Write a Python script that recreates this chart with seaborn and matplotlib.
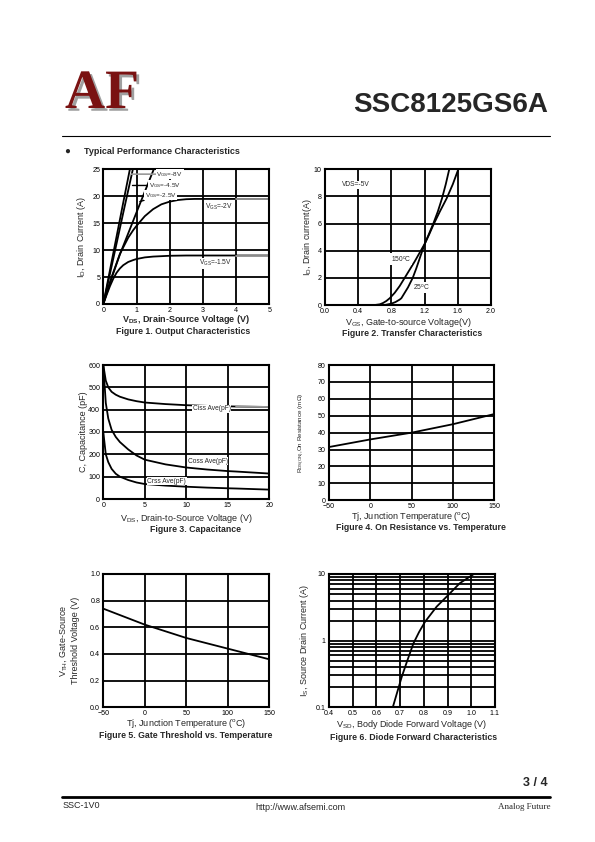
import numpy as np
import matplotlib.pyplot as plt
import matplotlib.patheffects as pe
import seaborn as sns
from matplotlib.lines import Line2D
from matplotlib.ticker import MultipleLocator, LogLocator, FixedLocator, NullFormatter

sns.set_style("white")
plt.rcParams['font.family'] = ['Liberation Sans', 'DejaVu Sans']
plt.rcParams['mathtext.default'] = 'regular'

# Figure 1 - output characteristics (Vds, Id)
vgs8_x = [0, 0.3, 0.6, 0.8]
vgs8_y = [0, 9.4, 18.8, 25]
vgs45_x = [0, 0.3, 0.6, 0.89]
vgs45_y = [0, 8.4, 16.9, 25]
vgs25_x = [0, 0.25, 0.5, 1.0, 1.52]
vgs25_y = [0, 4.8, 9.2, 17.0, 25]
vgs2_x = [0, 0.1, 0.25, 0.5, 0.75, 0.9, 1.0, 1.25, 1.5, 1.75, 2.0, 2.25, 2.5, 2.75, 3, 4, 5]
vgs2_y = [0, 2.1, 5, 9.3, 12.3, 13.7, 14.5, 16.3, 17.6, 18.5, 19.0, 19.3, 19.45, 19.5, 19.5, 19.5, 19.5]
vgs15_x = [0, 0.1, 0.2, 0.3, 0.4, 0.5, 0.6, 0.75, 0.9, 1.0, 1.25, 1.5, 2.0, 2.5, 3, 4, 5]
vgs15_y = [0, 1.7, 3.3, 4.7, 5.8, 6.6, 7.2, 7.8, 8.15, 8.35, 8.65, 8.8, 8.95, 9.0, 9.0, 9.0, 9.0]

# Figure 2 - transfer characteristics
t25_x = [0, 0.72, 0.8, 0.85, 0.9, 0.92, 1.0, 1.057, 1.1, 1.15, 1.205, 1.25, 1.305, 1.36, 1.41, 1.455, 1.497]
t25_y = [0, 0, 0.1, 0.22, 0.4, 0.5, 1.3, 2.0, 2.7, 3.6, 4.55, 5.2, 6.0, 6.9, 7.86, 8.9, 10]
t150_x = [0, 0.6, 0.66, 0.7, 0.74, 0.78, 0.84, 0.9, 0.96, 1.02, 1.08, 1.14, 1.205, 1.255, 1.305,
          1.385, 1.466, 1.54, 1.606]
t150_y = [0, 0, 0.05, 0.15, 0.3, 0.5, 0.9, 1.4, 2.0, 2.6, 3.2, 3.85, 4.55, 5.2, 5.9,
          6.9, 7.86, 8.9, 10]

# Figure 3 - capacitance
cap_x = [0, 0.3, 0.6, 1, 1.5, 2, 3, 4, 5, 7.5, 10, 12.5, 15, 16, 20]
ciss = [600, 530, 500, 480, 467, 458, 446, 438, 432, 425, 420, 417, 415, 414, 412]
coss = [600, 430, 360, 310, 278, 255, 222, 195, 176, 155, 141, 132, 125, 123, 114]
crss = [300, 200, 165, 135, 113, 100, 85, 74, 67, 60, 55, 51, 48, 47, 42]

# Figure 4 - on resistance vs temperature
tj = [-50, 0, 50, 100, 150]
rdson = [31.5, 36, 40, 45, 51]

# Figure 5 - gate threshold vs temperature
vth = [0.74, 0.62, 0.52, 0.44, 0.36]

# Figure 6 - body diode
vsd = [0.669, 0.69, 0.707, 0.73, 0.756, 0.78, 0.805, 0.854, 0.903, 0.951, 1.011]
isd = [0.1, 0.18, 0.288, 0.5, 0.91, 1.35, 1.92, 3.24, 4.84, 7.25, 10]

W, H = 595, 842
fig = plt.figure(figsize=(W / 100, H / 100), dpi=100)


def add_ax(l, r, t, b):
    return fig.add_axes([l / W, 1 - b / H, (r - l) / W, (b - t) / H])


def style(ax, xlim, ylim, xstep, ystep):
    ax.set_xlim(*xlim)
    ax.set_ylim(*ylim)
    if xstep:
        ax.xaxis.set_major_locator(MultipleLocator(xstep))
    if ystep:
        ax.yaxis.set_major_locator(MultipleLocator(ystep))
    ax.grid(True, color='black', lw=1.3)
    for s in ax.spines.values():
        s.set_color('black')
        s.set_linewidth(1.5)
    ax.tick_params(labelsize=5.1, length=0, pad=2.2, colors='black')


def labels(ax, xl, yl, xy, yx, xbold=False, ysize=6.5):
    ax.set_xlabel(xl, fontsize=6.5, fontweight='bold' if xbold else 'normal')
    ax.set_ylabel(yl, fontsize=ysize)
    ax.xaxis.label.set_verticalalignment('center')
    ax.yaxis.label.set_verticalalignment('center')
    ax.xaxis.set_label_coords(0.5, xy)
    ax.yaxis.set_label_coords(yx, 0.5)


def caption(txt, x, y):
    fig.text(x / W, 1 - y / H, txt, ha='center', va='center', fontsize=6.3, fontweight='bold')


lw = 1.3
fs = 4.8
wbox = dict(fc='white', ec='none', pad=0.5)

# ---- Figure 1
ax1 = add_ax(103.3, 269.3, 169.3, 304)
for xs, ys in [(vgs8_x, vgs8_y), (vgs45_x, vgs45_y), (vgs25_x, vgs25_y),
               (vgs2_x, vgs2_y), (vgs15_x, vgs15_y)]:
    sns.lineplot(x=xs, y=ys, ax=ax1, color='black', lw=lw)
for xs, ys in [(vgs2_x, vgs2_y), (vgs15_x, vgs15_y)]:
    m = np.array(xs) >= 4
    sns.lineplot(x=np.array(xs)[m], y=np.array(ys)[m], ax=ax1, color='#999999', lw=lw)
style(ax1, (0, 5), (0, 25), 1, 5)
labels(ax1, r'V$_{DS}$, Drain-Source Voltage (V)', r'I$_{D}$, Drain Current (A)', -0.116, -0.134, xbold=True)
ax1.annotate(r'V$_{GS}$=-8V', xy=(0.84, 24.1), xytext=(1.6, 24.1), fontsize=4.6, va='center',
             bbox=wbox, arrowprops=dict(arrowstyle='-', color='#999999', lw=1.2, shrinkA=0, shrinkB=0))
ax1.annotate(r'V$_{GS}$=-4.5V', xy=(0.88, 22.0), xytext=(1.38, 22.0), fontsize=4.6, va='center',
             bbox=wbox, arrowprops=dict(arrowstyle='-', color='black', lw=1.0, shrinkA=0, shrinkB=0))
ax1.annotate(r'V$_{GS}$=-2.5V', xy=(1.1, 19.0), xytext=(1.25, 20.2), fontsize=4.6, va='center',
             bbox=wbox, arrowprops=dict(arrowstyle='-', color='black', lw=1.0, shrinkA=0, shrinkB=0))
ax1.text(3.06, 18.1, r'V$_{GS}$=-2V', fontsize=fs, va='center', bbox=wbox)
ax1.text(2.89, 7.55, r'V$_{GS}$=-1.5V', fontsize=fs, va='center', bbox=wbox)
caption('Figure 1. Output Characteristics', 183, 331)

# ---- Figure 2
ax2 = add_ax(325, 491, 169.3, 305)
sns.lineplot(x=t25_x, y=t25_y, ax=ax2, color='black', lw=lw)
sns.lineplot(x=t150_x, y=t150_y, ax=ax2, color='black', lw=lw)
style(ax2, (0, 2.0), (0, 10), 0.4, 2)
ax2.xaxis.set_major_formatter(plt.FormatStrFormatter('%.1f'))
labels(ax2, r'V$_{GS}$, Gate-to-source Voltage(V)', r'I$_{D}$, Drain current(A)', -0.128, -0.108)
ax2.text(0.2, 8.85, 'VDS=-5V', fontsize=fs, va='center', bbox=wbox)
ax2.text(0.79, 3.4, r'150$^{o}$C', fontsize=fs, va='center', bbox=wbox)
ax2.text(1.06, 1.3, r'25$^{o}$C', fontsize=fs, va='center', bbox=wbox)
caption('Figure 2. Transfer Characteristics', 412, 334)

# ---- Figure 3
ax3 = add_ax(103.3, 269.3, 365, 499)
for ys in [ciss, coss, crss]:
    sns.lineplot(x=cap_x, y=ys, ax=ax3, color='black', lw=lw)
m = np.array(cap_x) >= 16
sns.lineplot(x=np.array(cap_x)[m], y=np.array(ciss)[m], ax=ax3, color='#999999', lw=lw)
style(ax3, (0, 20), (0, 600), 5, 100)
labels(ax3, r'V$_{DS}$, Drain-to-Source Voltage (V)', 'C, Capacitance (pF)', -0.149, -0.122)
ax3.text(10.76, 403, 'Ciss Ave(pF)', fontsize=fs, va='center', bbox=wbox)
ax3.text(10.16, 170, 'Coss Ave(pF)', fontsize=fs, va='center', bbox=wbox)
ax3.text(5.3, 80, 'Crss Ave(pF)', fontsize=fs, va='center', bbox=wbox)
caption('Figure 3. Capacitance', 195, 529)

# ---- Figure 4
ax4 = add_ax(329, 494.3, 365, 500.3)
sns.lineplot(x=tj, y=rdson, ax=ax4, color='black', lw=lw)
style(ax4, (-50, 150), (0, 80), 50, 10)
labels(ax4, r'Tj, Junction Temperature ($^{o}$C)', r'R$_{DS(ON)}$,On Resistance (m$\Omega$)',
       -0.122, -0.164, ysize=4.5)
caption('Figure 4. On Resistance vs. Temperature', 421, 527)

# ---- Figure 5
ax5 = add_ax(103.3, 269.3, 574, 707.3)
sns.lineplot(x=tj, y=vth, ax=ax5, color='black', lw=lw)
style(ax5, (-50, 150), (0, 1.0), 50, 0.2)
ax5.yaxis.set_major_formatter(plt.FormatStrFormatter('%.1f'))
labels(ax5, r'Tj, Junction Temperature ($^{o}$C)', 'V$_{TH}$, Gate-Source\nThreshold Voltage (V)',
       -0.122, -0.207)
caption('Figure 5. Gate Threshold vs. Temperature', 186, 735)

# ---- Figure 6
ax6 = add_ax(329, 495, 574, 707.3)
sns.lineplot(x=vsd, y=isd, ax=ax6, color='black', lw=lw)
ax6.set_yscale('log')
style(ax6, (0.4, 1.1), (0.1, 10), 0.1, None)
ax6.xaxis.set_major_formatter(plt.FormatStrFormatter('%.1f'))
ax6.yaxis.set_major_locator(FixedLocator([0.1, 1, 10]))
ax6.yaxis.set_major_formatter(plt.FuncFormatter(lambda v, p: '%g' % v))
ax6.yaxis.set_minor_locator(LogLocator(base=10, subs=np.arange(2, 10)))
ax6.yaxis.set_minor_formatter(NullFormatter())
ax6.grid(True, which='both', axis='y', color='black', lw=1.3)
ax6.tick_params(which='minor', length=0)
labels(ax6, r'V$_{SD}$, Body Diode Forward Voltage (V)', r'I$_{S}$, Source Drain Current (A)',
       -0.13, -0.15)
caption('Figure 6. Diode Forward Characteristics', 414, 738)

# ---- page header / footer
fig.text(65 / W, 1 - 94 / H, 'AF', fontsize=40, fontweight='bold', color='#7a1212',
         family=['Liberation Serif'], va='center', ha='left',
         path_effects=[pe.withSimplePatchShadow(offset=(2, -2), shadow_rgbFace='#888888', alpha=0.8)])
fig.text(548 / W, 1 - 105 / H, 'SSC8125GS6A', fontsize=20, fontweight='bold', ha='right', va='center')
fig.add_artist(Line2D([62 / W, 550 / W], [1 - 136 / H, 1 - 136 / H], color='black', lw=0.8))
fig.text(64 / W, 1 - 151 / H, '\u25cf', fontsize=7, ha='left', va='center')
fig.text(84 / W, 1 - 151 / H, 'Typical Performance Characteristics', fontsize=6.5,
         fontweight='bold', ha='left', va='center')

fig.text(548 / W, 1 - 783 / H, '3 / 4', fontsize=9, fontweight='bold', ha='right', va='center')
fig.add_artist(Line2D([62 / W, 550 / W], [1 - 797 / H, 1 - 797 / H], color='black', lw=2))
fig.text(63 / W, 1 - 806 / H, 'SSC-1V0', fontsize=6.5, ha='left', va='center')
fig.text(300 / W, 1 - 807 / H, 'http://www.afsemi.com', fontsize=6.5, ha='center', va='center')
fig.text(550 / W, 1 - 807 / H, 'Analog Future', fontsize=6.5, ha='right', va='center',
         family=['Liberation Serif'])

fig.savefig('out.png', dpi=100)
